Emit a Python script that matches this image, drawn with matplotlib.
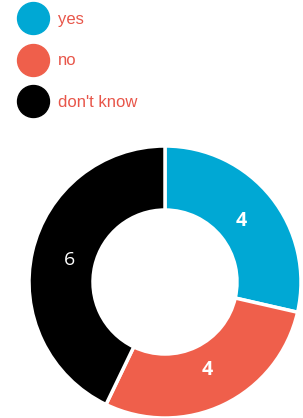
import numpy as np
import matplotlib.pyplot as plt
from matplotlib.lines import Line2D

labels = ["yes", "no", "don't know"]
values = [4, 4, 6]
colors = ["#00a8d4", "#ef5f4b", "#000000"]
label_weights = ["bold", "bold", "normal"]

fig = plt.figure(figsize=(3.03, 4.18), dpi=100)
ax = fig.add_axes([0, 0, 1, 1])

wedges, texts, autotexts = ax.pie(
    values, colors=colors, startangle=90, counterclock=False,
    center=(165, 136), radius=136,
    wedgeprops=dict(width=64, edgecolor="white", linewidth=2.5),
    autopct=lambda p: "%d" % round(p * sum(values) / 100),
    pctdistance=0.72, frame=True,
)
ax.set_xlim(0, 303)
ax.set_ylim(0, 418)
ax.set_aspect("equal")
ax.axis("off")
for t, w in zip(autotexts, label_weights):
    t.set_color("white")
    t.set_fontsize(14)
    t.set_fontweight(w)
    t.set_fontfamily("Open Sans")

handles = [Line2D([], [], marker="o", linestyle="", markersize=23,
                  markerfacecolor=c, markeredgecolor=c) for c in colors]
leg = fig.legend(handles, labels, loc="upper left", bbox_to_anchor=(0.043, 0.988),
                 frameon=False, prop={"family": "Liberation Sans", "size": 12},
                 labelspacing=1.6, handletextpad=0.7, handlelength=1.6,
                 borderaxespad=0.0, borderpad=0.4)
for t in leg.get_texts():
    t.set_color("#e8564a")

fig.savefig("out.png", dpi=100)
